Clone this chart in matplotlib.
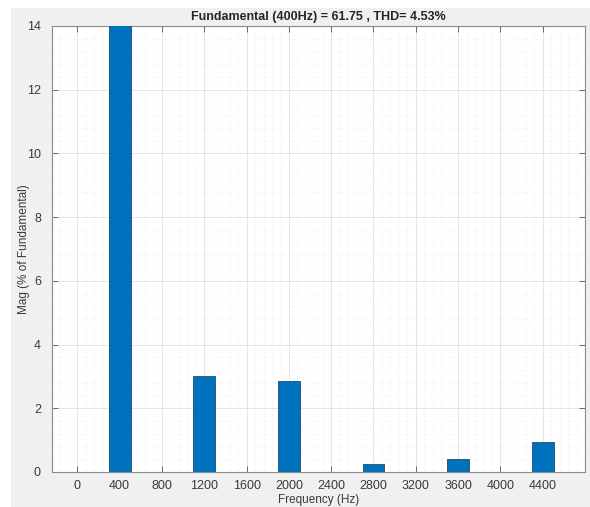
import matplotlib
matplotlib.use("Agg")
import matplotlib.pyplot as plt
from matplotlib.patches import Rectangle
from matplotlib.ticker import MultipleLocator, AutoMinorLocator

plt.rcParams['font.family'] = ['Liberation Sans', 'DejaVu Sans']

# harmonic spectrum, magnitude in % of fundamental
freqs = [400, 1200, 2000, 2800, 3600, 4400]
mags = [100.0, 3.02, 2.86, 0.24, 0.41, 0.95]
xticks = [0, 400, 800, 1200, 1600, 2000, 2400, 2800, 3200, 3600, 4000, 4400]
title = "Fundamental (400Hz) = 61.75 , THD= 4.53%"

W, H = 590, 507
fig = plt.figure(figsize=(W / 100, H / 100), dpi=100)
fig.patch.set_facecolor('white')
# grey panel behind the axes
fig.patches.append(Rectangle((11 / W, 0), 1 - 11 / W, 1 - 8 / H,
                             transform=fig.transFigure, facecolor='#f0f0f0',
                             edgecolor='none', zorder=-10))

ax = fig.add_axes([52 / W, 35 / H, 533 / W, 446 / H])
ax.set_facecolor('white')

ax.bar(freqs, mags, width=205, color='#0072BD', edgecolor='#234a70',
       linewidth=0.6, zorder=3)

ax.set_xlim(-240, 4800)
ax.set_ylim(0, 14)
ax.set_xticks(xticks)
ax.yaxis.set_major_locator(MultipleLocator(2))
ax.xaxis.set_minor_locator(AutoMinorLocator(5))
ax.yaxis.set_minor_locator(AutoMinorLocator(5))

ax.grid(which='major', color='#e0e0e0', linewidth=0.6, zorder=0)
ax.grid(which='minor', color='#ebebeb', linewidth=0.5, linestyle=':', zorder=0)
ax.set_axisbelow(True)

for s in ax.spines.values():
    s.set_color('#8a8a8a')
    s.set_linewidth(0.8)

ax.tick_params(which='major', direction='in', length=4, width=0.7,
               color='#6a6a6a', top=True, right=True,
               labelsize=9, labelcolor='#3a3a3a')
ax.tick_params(axis='x', pad=6)
ax.tick_params(axis='y', pad=8)
ax.tick_params(which='minor', length=0)

ax.set_title(title, fontsize=9, fontweight='bold', color='#262626', pad=4)
ax.set_xlabel('Frequency (Hz)', fontsize=8.5, color='#3a3a3a', va='center')
ax.set_ylabel('Mag (% of Fundamental)', fontsize=8.5, color='#3a3a3a', va='center')
ax.xaxis.set_label_coords(0.5, (472 - 500) / 446)
ax.yaxis.set_label_coords((24 - 52) / 533, 0.5)

fig.savefig('out.png', dpi=100)
